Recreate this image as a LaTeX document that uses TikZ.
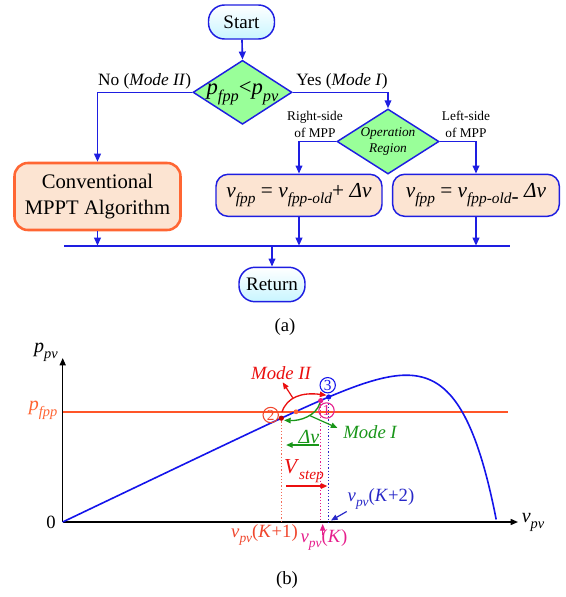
\documentclass[tikz,border=0pt]{standalone}
\usepackage{fontspec}
\setmainfont{Liberation Serif}
\usetikzlibrary{arrows.meta,shapes.geometric,calc}

\definecolor{flowblue}{RGB}{30,30,225}
\definecolor{diagreen}{RGB}{153,255,153}
\definecolor{peach}{RGB}{252,228,210}
\definecolor{convorange}{RGB}{255,102,51}
\definecolor{termcyan}{RGB}{200,245,255}
\definecolor{curveblue}{RGB}{20,20,235}
\definecolor{fppline}{RGB}{255,85,40}
\definecolor{fpplabel}{RGB}{255,100,50}
\definecolor{modered}{RGB}{235,15,15}
\definecolor{modegreen}{RGB}{25,150,25}
\definecolor{kmag}{RGB}{230,30,140}
\definecolor{kred}{RGB}{240,70,45}
\definecolor{kblue}{RGB}{40,40,200}

% italic variable with a lowered italic subscript
\newcommand\ivar[2]{\textit{#1}\raisebox{-0.3em}{\scalebox{0.72}{\textit{#2}}}}

\tikzset{
  flow/.style={draw=flowblue, line width=1.2pt, -{Triangle[length=6pt,width=5pt]}},
  bus/.style={draw=flowblue, line width=1.2pt},
  term/.style={draw=flowblue, line width=1.1pt, rounded corners=12pt,
    top color=white, bottom color=termcyan, inner sep=0pt,
    font=\fontsize{14.3}{16}\selectfont},
  dia/.style={diamond, draw=flowblue, line width=1.1pt, fill=diagreen, inner sep=0pt},
  proc/.style={draw=flowblue, line width=1.1pt, fill=peach, rounded corners=9pt,
    inner sep=0pt, font=\fontsize{16}{18}\selectfont},
  conv/.style={draw=convorange, line width=1.9pt, fill=peach, rounded corners=10pt,
    inner sep=0pt, align=center, font=\fontsize{15.5}{19.5}\selectfont},
  branch/.style={font=\fontsize{13}{15}\selectfont},
  side/.style={font=\fontsize{10}{12.5}\selectfont, align=center},
  axisline/.style={black, line width=1.1pt, -{Triangle[length=5.5pt,width=4.5pt]}},
  vdot/.style={line width=0.9pt, dash pattern=on 0.9pt off 1.5pt},
  numc/.style={circle, draw, line width=0.8pt, minimum size=11.5pt, inner sep=0pt,
    font=\fontsize{11.5}{11.5}\selectfont},
  tip/.style={-{Triangle[length=5pt,width=4pt]}},
}

\begin{document}
\begin{tikzpicture}[x=0.75pt, y=-0.75pt]
\useasboundingbox[fill=white] (0,0) rectangle (566,597);

% ---------- (a) flowchart ----------
\node[term, minimum width=49.5pt, minimum height=25.5pt] (start) at (241.5,22) {Start};
\node[dia, minimum width=74.25pt, minimum height=48pt] (d1) at (242.5,92.3) {};
\node[font=\fontsize{17}{19}\selectfont] (d1t) at (242.5,93.5) {\ivar{p}{fpp}<\ivar{p}{pv}};
\node[dia, minimum width=76.5pt, minimum height=48.75pt] (d2) at (388,141.5) {};
\node[side, font=\fontsize{10}{12.5}\selectfont\itshape] (d2t) at (388,141.5) {Operation\\Region};

\node[conv, minimum width=124.5pt, minimum height=50.25pt] (conv) at (97.5,196.5)
  {Conventional\\MPPT Algorithm};
\node[proc, minimum width=124.5pt, minimum height=31.5pt] (b2) at (299,195.3)
  {\ivar{v}{fpp} = \ivar{v}{fpp-old}+ \textit{Δv}};
\node[proc, minimum width=125pt, minimum height=31.5pt] (b3) at (476,195.3)
  {\ivar{v}{fpp} = \ivar{v}{fpp-old}\raisebox{-0.3em}{-} \textit{Δv}};
\node[term, minimum width=49.5pt, minimum height=25.8pt] (ret) at (272,284.5) {Return};

\node[branch] (no) at (144.6,81) {No (\textit{Mode II})};
\node[branch] (yes) at (342,81) {Yes (\textit{Mode I})};
\node[side] (rs) at (315,124.5) {Right-side\\of MPP};
\node[side] (ls) at (466,124.5) {Left-side\\of MPP};

\coordinate (busL) at (64,245.7);
\coordinate (busR) at (510,245.7);

\draw[flow] (start) -- (d1.north);
\draw[flow] (d1.west) -| (conv.north);
\draw[flow] (d1.east) -| (d2.north);
\draw[flow] (d2.west) -| (b2.north);
\draw[flow] (d2.east) -| (b3.north);
\draw[bus] (busL) -- (busR);
\draw[flow] (conv.south) -- (conv.south |- busL);
\draw[flow] (b2.south) -- (b2.south |- busL);
\draw[flow] (b3.south) -- (b3.south |- busL);
\draw[flow] (ret.north |- busL) -- (ret.north);

\node[font=\fontsize{14}{16}\selectfont] (capa) at (285,327) {(a)};

% ---------- (b) P-V curve ----------
\coordinate (O) at (62.7,522);
\coordinate (xend) at (518,522);
\coordinate (yend) at (62.7,358);
\draw[axisline] (O) -- (xend);
\draw[axisline] (O) -- (yend);
\node[font=\fontsize{15}{16}\selectfont] (plab) at (46,352) {\ivar{p}{pv}};
\node[font=\fontsize{15}{16}\selectfont] (vlab) at (533,522) {\ivar{v}{pv}};
\node[font=\fontsize{14}{16}\selectfont] (zero) at (51,522) {0};

% reference power level
\coordinate (fL) at (62.7,412);
\coordinate (fR) at (508,412);
\draw[fppline, line width=1.1pt] (fL) -- (fR);
\node[text=fpplabel, font=\fontsize{15}{16}\selectfont] (flab) at (43,410) {\ivar{p}{fpp}};

% P-V characteristic
\draw[curveblue, line width=1.2pt] plot[domain=0:433.5, samples=220, smooth]
  ({62.7+\x},{522-0.477*\x*(1-exp((\x-434)/40))});

% operating points
\coordinate (p2) at (281.3,418.2);
\coordinate (pf) at (296,411.8);
\coordinate (p1) at (320.7,400.6);
\coordinate (p3) at (328.7,397);

\draw[kred!80, vdot] (p2) -- (p2 |- O);
\draw[kmag, vdot] (p1) -- (p1 |- O);
\draw[kblue, vdot] (p3) -- (p3 |- O);

% transitions
\draw[modered, line width=1pt, tip] (282,412) .. controls (287,397) and (302,392) .. (326.5,395.2);
\draw[modegreen, line width=1pt, tip] (320,403) .. controls (316,416) and (300,421) .. (284,420.3);

\fill[red!75!black] (p2) circle (2.6);
\fill[fpplabel] (pf) circle (2.4);
\fill[kmag] (p1) circle (2.6);
\fill[curveblue] (p3) circle (2.6);

\node[numc, draw=kred, text=kred] (c2) at (270.7,415) {2};
\node[numc, draw=kmag, text=kmag] (c1) at (326.5,410.5) {1};
\node[numc, draw=curveblue, text=curveblue] (c3) at (327.7,385.2) {3};

% mode labels
\node[text=modered, font=\fontsize{14}{16}\selectfont\itshape] (m2) at (281,373) {Mode II};
\node[text=modegreen, font=\fontsize{14}{16}\selectfont\itshape] (m1) at (370,432) {Mode I};
\coordinate (m2a) at (292.7,397.7);
\coordinate (m2b) at (282.7,382.3);
\draw[modered, line width=0.9pt, tip] (m2a) -- (m2b);
\coordinate (m1a) at (310,415.7);
\coordinate (m1b) at (337.5,428);
\draw[modegreen, line width=0.9pt, tip] (m1a) -- (m1b);

% voltage steps
\node[text=modegreen, font=\fontsize{15}{16}\selectfont\itshape] (dv) at (309,437) {Δv};
\coordinate (dva) at (319,445);
\coordinate (dvb) at (286,445);
\draw[modegreen, line width=1.6pt, tip] (dva) -- (dvb);
\node[text=modered, font=\fontsize{16}{17}\selectfont] (vs) at (304,471) {\ivar{V}{step}};
\coordinate (vsa) at (286,486);
\coordinate (vsb) at (327.5,486);
\draw[modered, line width=1.6pt, tip] (vsa) -- (vsb);

% sample voltages
\node[text=kred, font=\fontsize{14}{16}\selectfont] (k1) at (264.5,535) {\ivar{v}{pv}(\textit{K}+1)};
\node[text=kmag, font=\fontsize{14}{16}\selectfont] (k0) at (324,540) {\ivar{v}{pv}(\textit{K})};
\node[text=kblue, font=\fontsize{14}{16}\selectfont] (k2) at (381,499) {\ivar{v}{pv}(\textit{K}+2)};
\coordinate (k0a) at (322.7,535);
\coordinate (k0b) at (322.7,524);
\draw[kmag, line width=0.9pt, tip] (k0a) -- (k0b);
\coordinate (k2a) at (346.7,511.5);
\coordinate (k2b) at (331,520.5);
\draw[kblue, line width=0.9pt, tip] (k2a) -- (k2b);

\node[font=\fontsize{14}{16}\selectfont] (capb) at (287,580) {(b)};
\end{tikzpicture}
\end{document}
